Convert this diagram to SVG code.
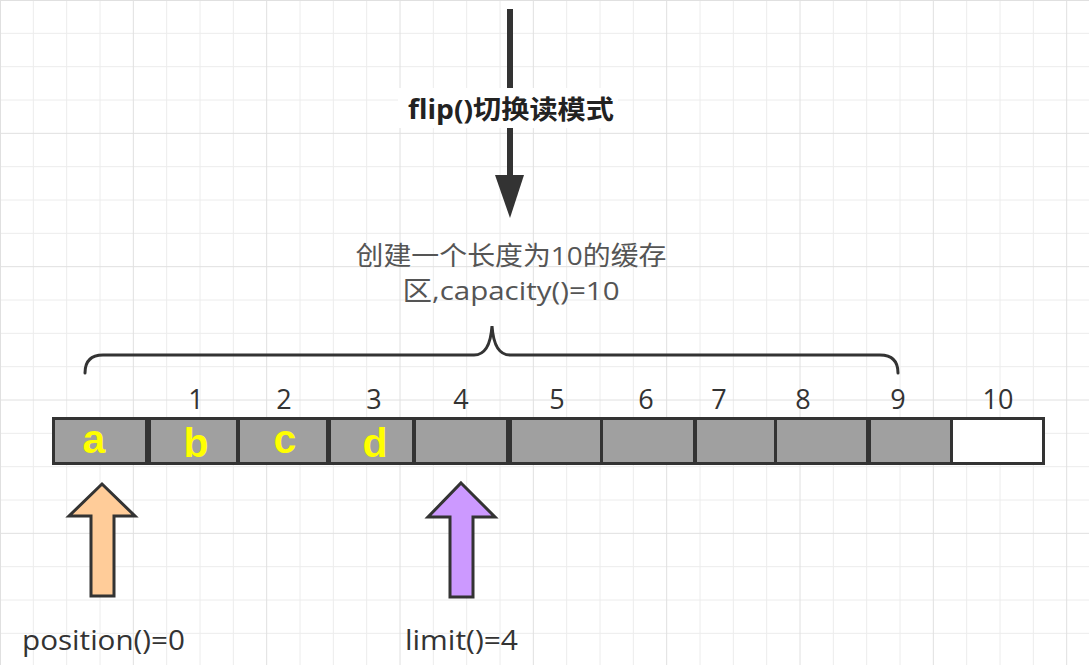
<svg xmlns="http://www.w3.org/2000/svg" width="1089" height="665" viewBox="0 0 1089 665">
<style>
.grid{stroke:#ececec;stroke-width:1;fill:none}
.gridmaj{stroke:#e0e0e0;stroke-width:1;fill:none}
.cell{fill:#a0a0a0;stroke:#333;stroke-width:3}
.cellw{fill:#fff;stroke:#333;stroke-width:3}
.idx{font-family:"Open Sans","Noto Sans",sans-serif;font-size:27px;fill:#333;text-anchor:middle}
.let{font-family:"Liberation Sans",Arial,sans-serif;font-weight:bold;font-size:41px;fill:#ffff00;text-anchor:middle}
.lbl{font-family:"Open Sans","Noto Sans CJK SC",sans-serif;font-size:27px;fill:#333}
.cap{font-family:"Open Sans","Noto Sans CJK SC",sans-serif;font-size:26px;fill:#555;text-anchor:middle}
.flip{font-family:"Open Sans","Noto Sans CJK SC",sans-serif;font-weight:bold;font-size:26px;fill:#222}
.ptr{stroke:#333;stroke-width:3;stroke-linejoin:miter}
</style>
<rect width="1089" height="665" fill="#fff"/>
<g id="grid">
<path class="grid" d="M33.33 0V665M66.67 0V665M100 0V665M166.67 0V665M200 0V665M233.33 0V665M300 0V665M333.33 0V665M366.67 0V665M433.33 0V665M466.67 0V665M500 0V665M566.67 0V665M600 0V665M633.33 0V665M700 0V665M733.33 0V665M766.67 0V665M833.33 0V665M866.67 0V665M900 0V665M966.67 0V665M1000 0V665M1033.33 0V665M0 33.33H1089M0 66.67H1089M0 100H1089M0 166.67H1089M0 200H1089M0 233.33H1089M0 300H1089M0 333.33H1089M0 366.67H1089M0 433.33H1089M0 466.67H1089M0 500H1089M0 566.67H1089M0 600H1089M0 633.33H1089"/>
<path class="gridmaj" d="M0.5 0V665M133.33 0V665M266.67 0V665M400 0V665M533.33 0V665M666.67 0V665M800 0V665M933.33 0V665M1066.67 0V665M0 0.5H1089M0 133.33H1089M0 266.67H1089M0 400H1089M0 533.33H1089"/>
</g>
<g id="connectors">
<line x1="510" y1="9" x2="510" y2="180" stroke="#333" stroke-width="6"/>
<polygon points="495,175 524,175 510,218" fill="#333"/>
</g>
<g id="flip-label">
<rect x="398" y="88" width="220" height="40" fill="#fff"/>
<text class="flip" x="408" y="119" textLength="206" lengthAdjust="spacingAndGlyphs">flip()切换读模式</text>
</g>
<g id="caption">
<text class="cap" x="511" y="265" textLength="311" lengthAdjust="spacingAndGlyphs">创建一个长度为10的缓存</text>
<text class="cap" x="511" y="300" textLength="217" lengthAdjust="spacingAndGlyphs">区,capacity()=10</text>
</g>
<g id="brace">
<path d="M85 373Q85 355 103 355L474 355Q490 355 492 326Q494 355 510 355L880 355Q898 355 898 373" fill="none" stroke="#333" stroke-width="3" stroke-linecap="round"/>
</g>
<g id="indices">
<text class="idx" x="196" y="409">1</text>
<text class="idx" x="284" y="409">2</text>
<text class="idx" x="374" y="409">3</text>
<text class="idx" x="461" y="409">4</text>
<text class="idx" x="557" y="409">5</text>
<text class="idx" x="646" y="409">6</text>
<text class="idx" x="719" y="409">7</text>
<text class="idx" x="803" y="409">8</text>
<text class="idx" x="898" y="409">9</text>
<text class="idx" x="998" y="409">10</text>
</g>
<g id="buffer">
<rect class="cell" x="53.5" y="418.5" width="93" height="45"/>
<rect class="cell" x="149.5" y="418.5" width="88" height="45"/>
<rect class="cell" x="238.5" y="418.5" width="89" height="45"/>
<rect class="cell" x="329.5" y="418.5" width="84" height="45"/>
<rect class="cell" x="414.5" y="418.5" width="93" height="45"/>
<rect class="cell" x="510.5" y="418.5" width="91" height="45"/>
<rect class="cell" x="601.5" y="418.5" width="93" height="45"/>
<rect class="cell" x="695.5" y="418.5" width="80" height="45"/>
<rect class="cell" x="775.5" y="418.5" width="92" height="45"/>
<rect class="cell" x="869.5" y="418.5" width="82" height="45"/>
<rect class="cellw" x="951.5" y="418.5" width="92" height="45"/>
<text class="let" x="94" y="453">a</text>
<text class="let" x="196" y="457">b</text>
<text class="let" x="285" y="453">c</text>
<text class="let" x="375" y="457">d</text>
</g>
<g id="position">
<polygon class="ptr" fill="#ffcc99" points="102,484 135,516 114,516 114,596 91,596 91,516 69,516"/>
<text class="lbl" x="22" y="650" textLength="163" lengthAdjust="spacingAndGlyphs">position()=0</text>
</g>
<g id="limit">
<polygon class="ptr" fill="#cc99ff" points="461,483 495,517 473,517 473,597 450,597 450,517 428,517"/>
<text class="lbl" x="405" y="650" textLength="113" lengthAdjust="spacingAndGlyphs">limit()=4</text>
</g>
</svg>
